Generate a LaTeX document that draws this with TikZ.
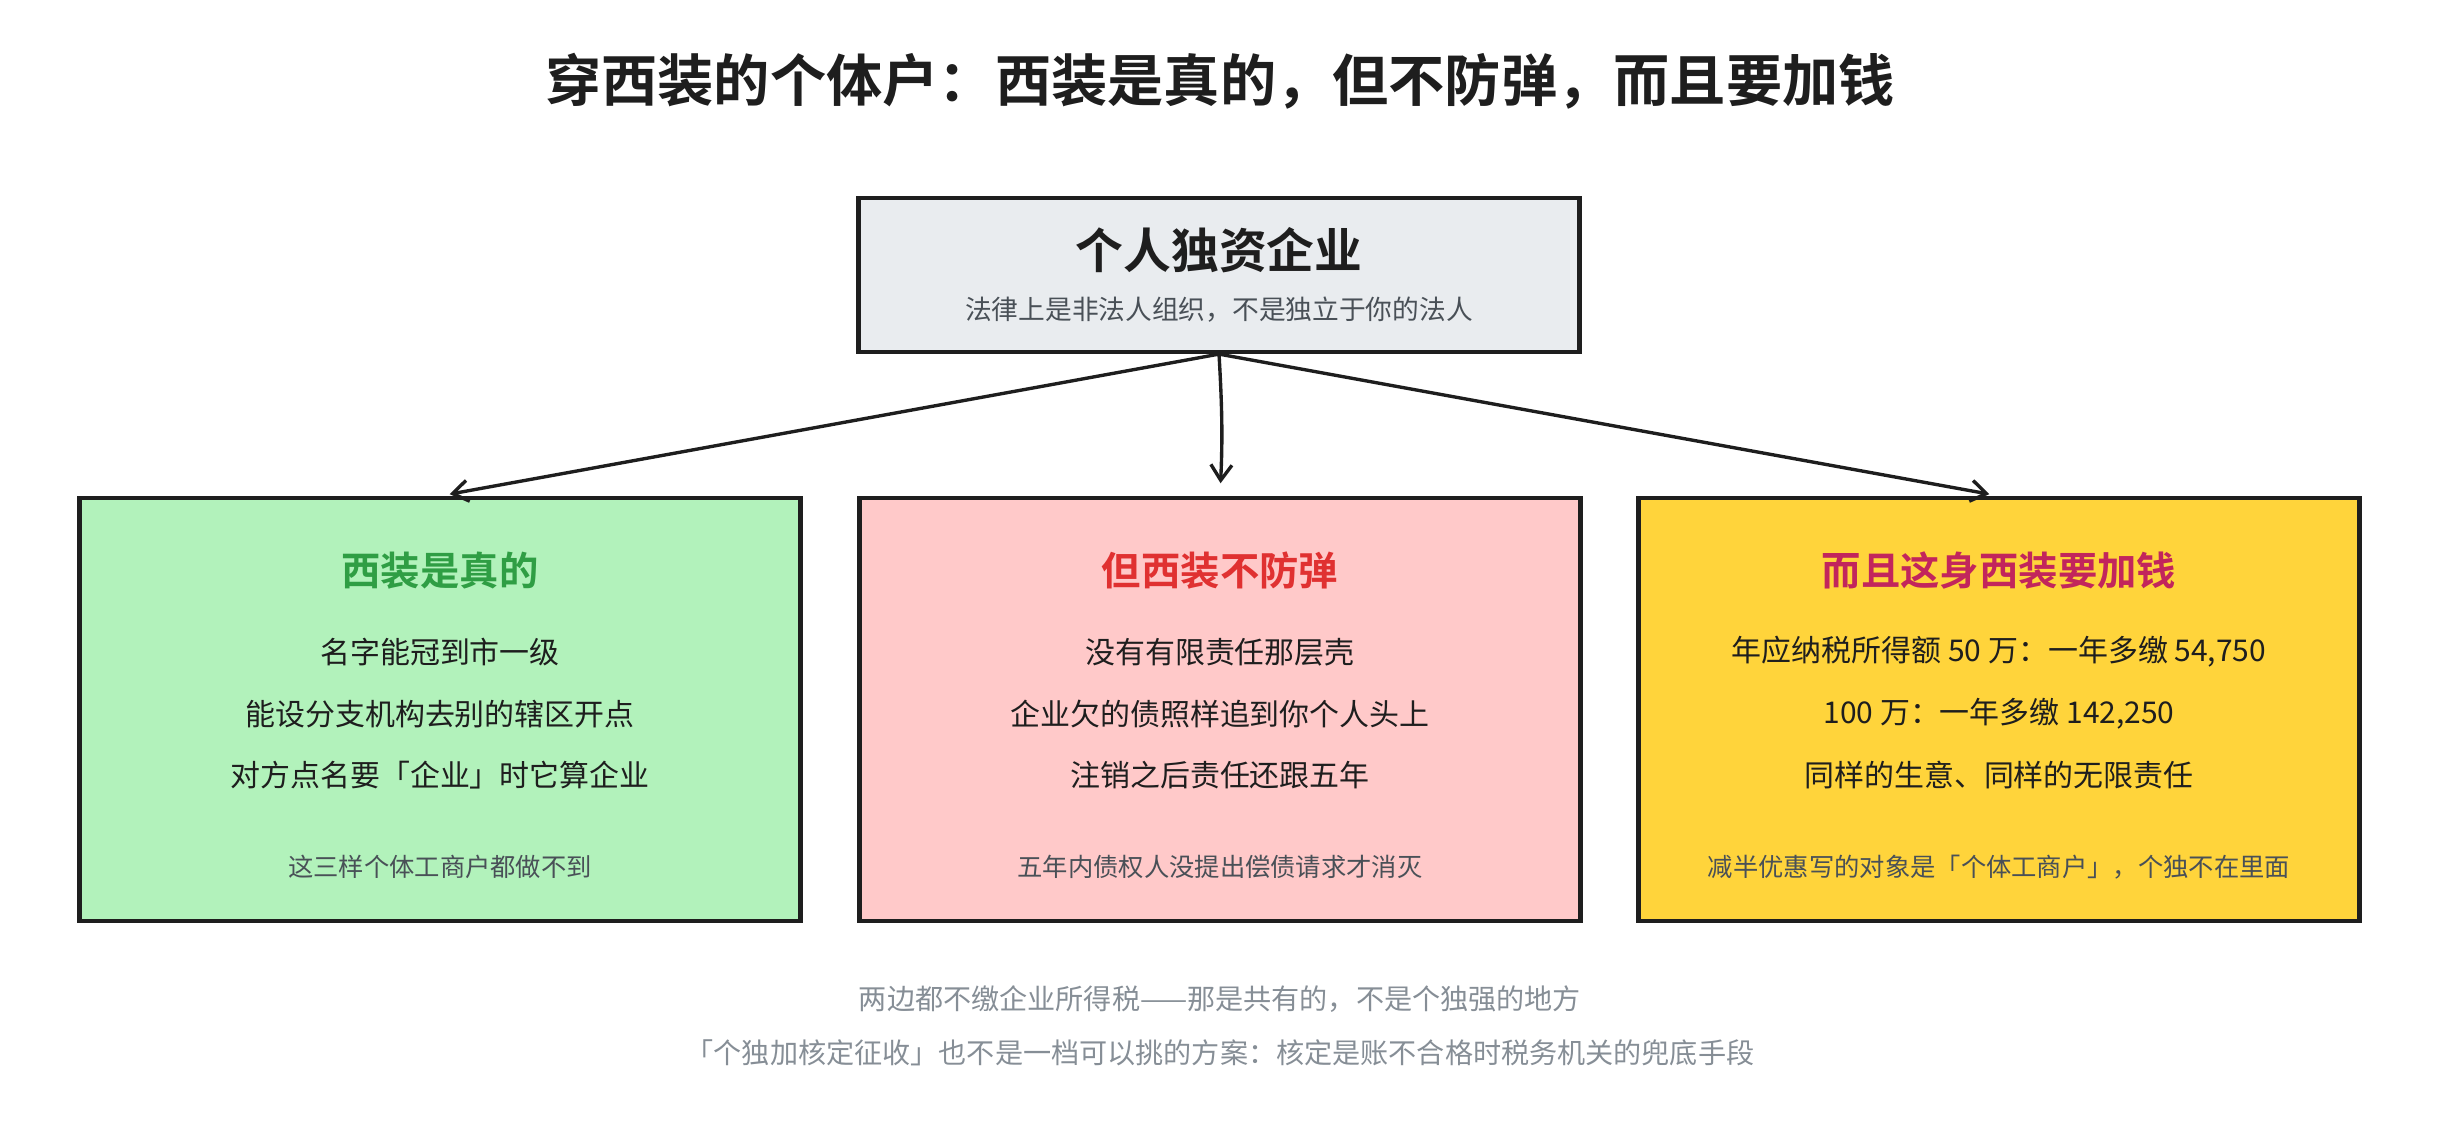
\documentclass[tikz,border=0pt]{standalone}
\usepackage{fontspec}
\setmainfont{Noto Sans CJK SC}[BoldFont={* Bold}]
\usetikzlibrary{arrows.meta}

\definecolor{ink}{HTML}{1E1E1E}
\definecolor{greyline}{HTML}{495057}
\definecolor{greynote}{HTML}{868E96}
\definecolor{topfill}{HTML}{E9ECEF}
\definecolor{greenfill}{HTML}{B2F2BB}
\definecolor{pinkfill}{HTML}{FFC9C9}
\definecolor{yellowfill}{HTML}{FFD43B}
\definecolor{greenhead}{HTML}{2F9E44}
\definecolor{redhead}{HTML}{E03131}
\definecolor{winehead}{HTML}{C2255C}

\begin{document}
\begin{tikzpicture}[x=0.025cm,y=0.025cm]
	\tikzstyle{every node}+=[inner sep=0pt, text=ink]
	\tikzstyle{card}=[draw=ink, line width=3pt, rectangle, minimum height=423*0.025cm, minimum width=721*0.025cm]
	\tikzstyle{cardhead}=[font=\bfseries\fontsize{28pt}{32pt}\selectfont]
	\tikzstyle{cardline}=[font=\fontsize{21.3pt}{25pt}\selectfont]
	\tikzstyle{cardfoot}=[font=\fontsize{18pt}{22pt}\selectfont, text=greyline]
	\tikzstyle{link}=[draw=ink, line width=2.4pt, -{Straight Barb[length=11pt,width=15pt,line width=2.4pt]}]
	\useasboundingbox (0,0) rectangle (2440,-1140);
	% title
	\node (title) at (1220,-81) {\bfseries\fontsize{40pt}{46pt}\selectfont 穿西装的个体户：西装是真的，但不防弹，而且要加钱};
	% top box
	\node [draw=ink, line width=3pt, fill=topfill, minimum width=721*0.025cm, minimum height=154*0.025cm] (ge) at (1219,-275) {};
	\node [font=\bfseries\fontsize{34pt}{40pt}\selectfont] (gehead) at (1219,-250) {个人独资企业};
	\node [font=\fontsize{19pt}{23pt}\selectfont, text=greyline] (gesub) at (1219,-310) {法律上是非法人组织，不是独立于你的法人};
	% three boxes
	\node [card, fill=greenfill] (real) at (440,-709.5) {};
	\node [card, fill=pinkfill] (soft) at (1220,-709.5) {};
	\node [card, fill=yellowfill] (cost) at (1999,-709.5) {};
	\node [cardhead, text=greenhead] (realhead) at (440,-571) {西装是真的};
	\node [cardline] (real1) at (440,-652) {名字能冠到市一级};
	\node [cardline] (real2) at (440,-714) {能设分支机构去别的辖区开点};
	\node [cardline] (real3) at (440,-775) {对方点名要「企业」时它算企业};
	\node [cardfoot] (realfoot) at (440,-867) {这三样个体工商户都做不到};
	\node [cardhead, text=redhead] (softhead) at (1220,-571) {但西装不防弹};
	\node [cardline] (soft1) at (1220,-652) {没有有限责任那层壳};
	\node [cardline] (soft2) at (1220,-714) {企业欠的债照样追到你个人头上};
	\node [cardline] (soft3) at (1220,-775) {注销之后责任还跟五年};
	\node [cardfoot] (softfoot) at (1220,-867) {五年内债权人没提出偿债请求才消灭};
	\node [cardhead, text=winehead] (costhead) at (1999,-571) {而且这身西装要加钱};
	\node [cardline] (cost1) at (1999,-652) {年应纳税所得额 50 万：一年多缴 54,750};
	\node [cardline] (cost2) at (1999,-714) {100 万：一年多缴 142,250};
	\node [cardline] (cost3) at (1999,-775) {同样的生意、同样的无限责任};
	\node [cardfoot] (costfoot) at (1999,-867) {减半优惠写的对象是「个体工商户」，个独不在里面};
	% arrows
	\draw [link, shorten >=7pt] (ge.south) -- (real.north);
	\draw [link, shorten >=9pt] (ge.south) to[bend left=3] (soft.north);
	\draw [link, shorten >=7pt] (ge.south) -- (cost.north);
	% bottom notes
	\node [font=\fontsize{20pt}{24pt}\selectfont, text=greynote] (note1) at (1220,-999) {两边都不缴企业所得税——那是共有的，不是个独强的地方};
	\node [font=\fontsize{20pt}{24pt}\selectfont, text=greynote] (note2) at (1220,-1053) {「个独加核定征收」也不是一档可以挑的方案：核定是账不合格时税务机关的兜底手段};
\end{tikzpicture}
\end{document}
